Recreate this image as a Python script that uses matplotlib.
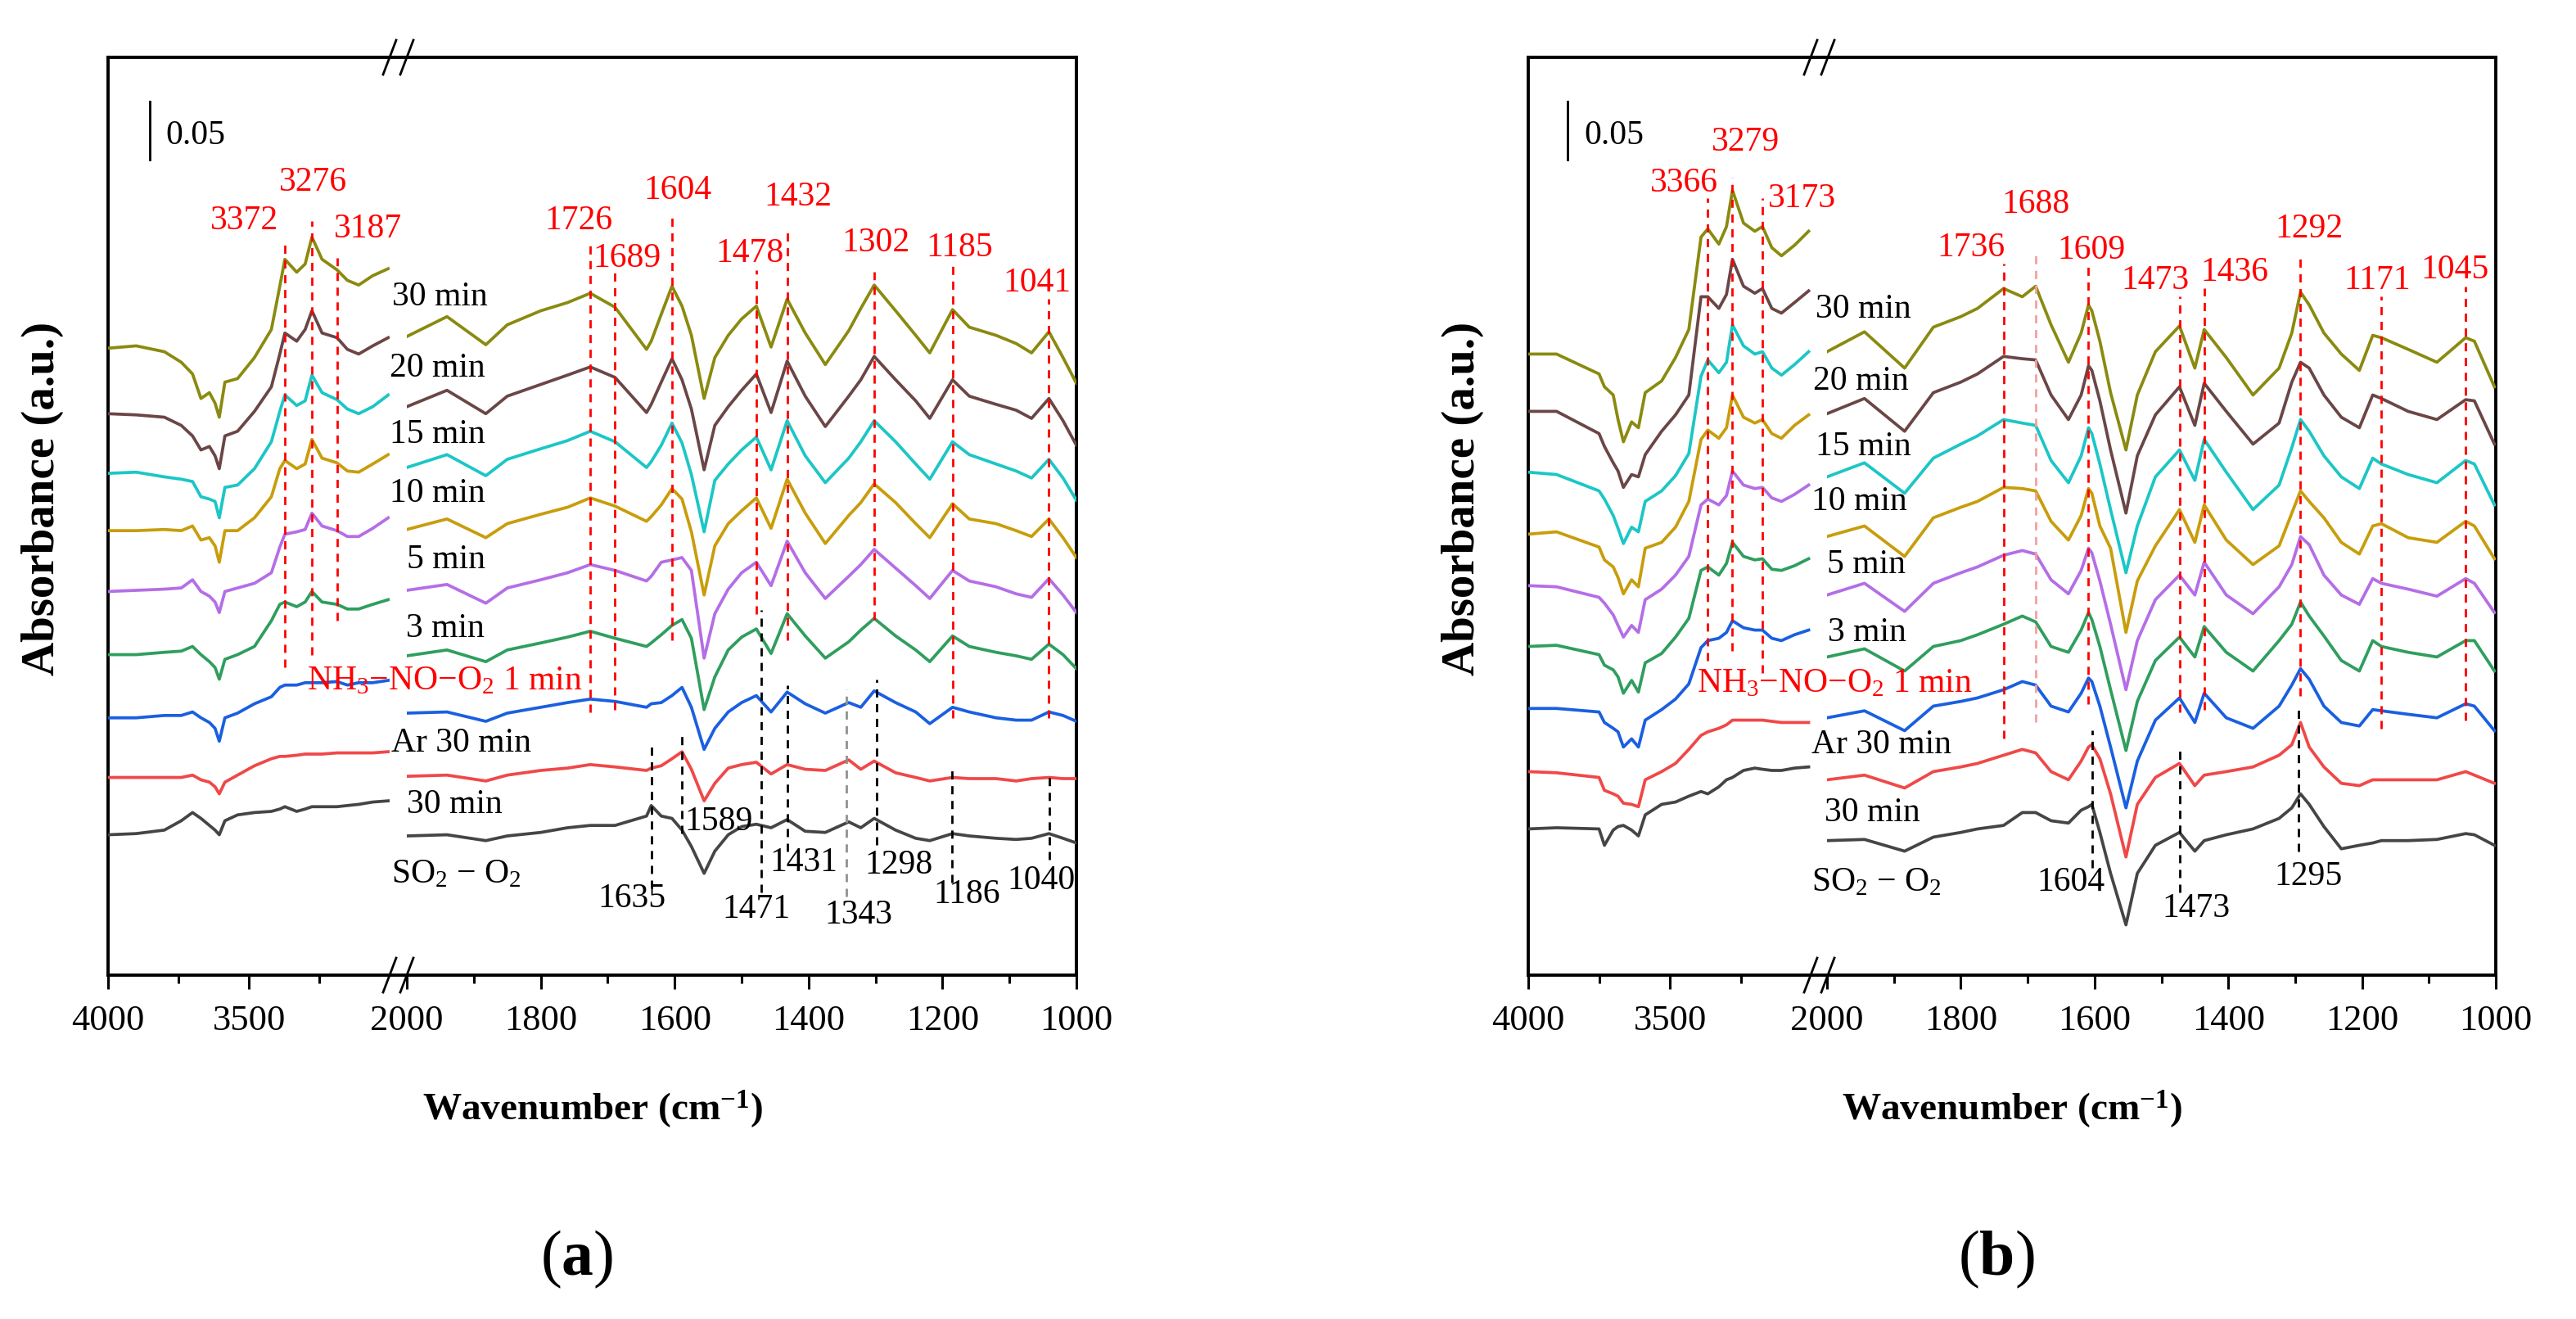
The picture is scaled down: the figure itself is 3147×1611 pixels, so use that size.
import matplotlib
matplotlib.use('Agg')
import matplotlib.pyplot as plt
from matplotlib.lines import Line2D

plt.rcParams['font.family'] = ['Liberation Serif', 'DejaVu Serif']
plt.rcParams['mathtext.fontset'] = 'custom'
plt.rcParams['mathtext.rm'] = 'Liberation Serif'
plt.rcParams['mathtext.it'] = 'Liberation Serif:italic'
plt.rcParams['mathtext.bf'] = 'Liberation Serif:bold'

# ---------------- data (absorbance in mAU) ----------------
# order of series: SO2-O2 30 min, Ar 30 min, NH3-NO-O2 1, 3, 5, 10, 15, 20, 30 min

# panel (a), 4000-3000 cm-1
wn_hi_a = [4000, 3900, 3800, 3740, 3700, 3670, 3640, 3620, 3605, 3585, 3540, 3480,
           3420, 3390, 3372, 3330, 3300, 3276, 3240, 3187, 3150, 3110, 3060, 3005]
a_hi_so2 = [120, 121, 124, 132, 139, 134, 128, 124, 120, 132, 137, 139, 140, 142, 144, 140, 142, 144, 144, 144, 145, 146, 148, 149]
a_hi_ar = [169, 169, 169, 169, 171, 167, 165, 161, 155, 165, 171, 179, 185, 187, 187, 188, 189, 189, 189, 190, 190, 190, 190, 191]
a_hi_1 = [220, 220, 222, 222, 225, 220, 216, 211, 200, 220, 224, 232, 238, 246, 248, 248, 250, 250, 250, 251, 248, 250, 250, 252]
a_hi_3 = [274, 274, 276, 277, 281, 274, 268, 263, 253, 270, 274, 281, 303, 317, 319, 315, 319, 328, 319, 317, 313, 313, 317, 321]
a_hi_5 = [328, 329, 330, 331, 338, 328, 324, 319, 310, 328, 331, 335, 344, 366, 377, 379, 381, 395, 384, 380, 375, 375, 382, 391]
a_hi_10 = [380, 380, 381, 380, 384, 372, 374, 367, 353, 380, 380, 391, 409, 433, 440, 433, 437, 458, 442, 438, 431, 430, 437, 445]
a_hi_15 = [429, 430, 426, 424, 422, 409, 407, 405, 391, 417, 419, 433, 456, 482, 496, 487, 491, 513, 498, 492, 484, 480, 486, 496]
a_hi_20 = [480, 479, 477, 470, 461, 449, 452, 444, 433, 461, 465, 482, 503, 531, 549, 542, 552, 568, 549, 545, 535, 531, 538, 545]
a_hi_30 = [536, 538, 533, 524, 514, 493, 498, 489, 477, 507, 510, 528, 552, 589, 612, 601, 608, 631, 612, 603, 594, 590, 598, 604]

# panel (a), 2000-1000 cm-1
wn_lo_a = [2000, 1940, 1882, 1850, 1800, 1760, 1726, 1689, 1642, 1635, 1620, 1604, 1589,
           1575, 1556, 1540, 1520, 1500, 1478, 1456, 1432, 1405, 1375, 1340, 1322, 1302,
           1270, 1240, 1219, 1185, 1160, 1120, 1090, 1067, 1041, 1020, 1000]
a_lo_so2 = [119, 120, 115, 119, 122, 126, 128, 128, 136, 145, 136, 134, 124, 110, 87, 106, 120, 127, 129,
            126, 133, 123, 122, 131, 126, 134, 124, 117, 115, 121, 119, 117, 116, 117, 121, 117, 113]
a_lo_ar = [170, 171, 166, 171, 175, 177, 180, 178, 175, 177, 179, 185, 191, 176, 149, 164, 177, 180, 182,
           172, 180, 176, 175, 184, 176, 183, 173, 169, 166, 169, 168, 168, 166, 168, 169, 168, 168]
a_lo_1 = [224, 225, 217, 224, 229, 233, 236, 234, 229, 232, 233, 239, 246, 229, 193, 211, 225, 233, 239,
          225, 242, 232, 224, 233, 229, 243, 233, 225, 215, 229, 225, 220, 218, 218, 225, 222, 217]
a_lo_3 = [273, 278, 268, 278, 284, 289, 294, 288, 281, 284, 291, 299, 304, 288, 227, 255, 278, 289, 296,
          275, 309, 290, 271, 285, 295, 305, 290, 278, 268, 290, 281, 276, 273, 270, 283, 274, 262]
a_lo_5 = [329, 334, 318, 331, 338, 344, 351, 346, 337, 341, 353, 355, 357, 346, 271, 309, 330, 344, 353,
          333, 371, 344, 322, 341, 351, 364, 348, 333, 322, 346, 337, 332, 326, 323, 339, 325, 310]
a_lo_10 = [381, 390, 374, 386, 394, 400, 408, 401, 388, 392, 402, 416, 407, 379, 325, 367, 386, 397, 408,
           382, 424, 395, 369, 393, 404, 420, 404, 386, 374, 403, 390, 386, 380, 375, 390, 374, 357]
a_lo_15 = [434, 445, 427, 441, 450, 457, 465, 456, 434, 439, 453, 472, 455, 428, 379, 423, 437, 449, 460,
           432, 474, 444, 421, 442, 456, 474, 456, 437, 424, 456, 445, 437, 431, 425, 441, 425, 406]
a_lo_20 = [486, 500, 480, 495, 505, 513, 520, 511, 481, 488, 507, 527, 509, 484, 432, 470, 486, 500, 514,
           481, 525, 495, 469, 495, 509, 529, 509, 491, 476, 509, 495, 488, 483, 476, 493, 474, 453]
a_lo_30 = [546, 563, 539, 556, 568, 575, 583, 571, 535, 542, 565, 589, 572, 547, 493, 528, 547, 561, 572,
           537, 578, 549, 522, 551, 570, 590, 568, 547, 532, 569, 554, 547, 540, 532, 550, 528, 506]

# panel (b), 4000-3000 cm-1
wn_hi_b = [4000, 3900, 3750, 3731, 3700, 3683, 3664, 3635, 3611, 3587, 3529, 3480, 3433,
           3390, 3366, 3327, 3300, 3279, 3240, 3200, 3173, 3140, 3106, 3060, 3010]
b_hi_so2 = [125, 126, 125, 111, 124, 127, 128, 124, 119, 137, 146, 148, 153, 157, 155, 161, 167, 169, 175, 177, 176, 175, 175, 177, 178]
b_hi_ar = [174, 173, 169, 158, 155, 153, 147, 146, 144, 167, 174, 181, 193, 205, 208, 211, 214, 218, 218, 218, 218, 217, 216, 216, 216]
b_hi_1 = [228, 228, 225, 216, 211, 208, 195, 202, 195, 218, 227, 236, 249, 280, 286, 288, 293, 303, 297, 295, 295, 288, 286, 291, 295]
b_hi_3 = [281, 282, 274, 265, 261, 255, 241, 252, 242, 267, 275, 289, 305, 346, 349, 342, 352, 370, 358, 355, 356, 347, 346, 350, 356]
b_hi_5 = [333, 332, 323, 318, 308, 299, 289, 299, 293, 321, 330, 342, 358, 402, 407, 402, 410, 431, 419, 416, 417, 408, 405, 411, 419]
b_hi_10 = [377, 379, 366, 355, 349, 340, 326, 338, 332, 365, 370, 383, 405, 458, 466, 459, 468, 496, 477, 472, 475, 463, 459, 470, 479]
b_hi_15 = [430, 428, 414, 407, 393, 382, 369, 383, 379, 405, 414, 427, 446, 512, 526, 515, 524, 556, 538, 531, 533, 519, 513, 522, 533]
b_hi_20 = [482, 482, 463, 452, 438, 431, 417, 428, 426, 445, 465, 479, 496, 580, 580, 570, 582, 612, 589, 583, 587, 570, 566, 575, 585]
b_hi_30 = [531, 531, 514, 503, 496, 475, 456, 473, 468, 498, 508, 528, 552, 631, 638, 625, 640, 671, 643, 636, 640, 622, 615, 624, 636]

# panel (b), 2000-1000 cm-1
wn_lo_b = [2000, 1944, 1884, 1841, 1800, 1775, 1736, 1708, 1688, 1665, 1639, 1620, 1609,
           1604, 1592, 1576, 1553, 1536, 1509, 1473, 1450, 1436, 1403, 1363, 1324, 1305,
           1292, 1279, 1257, 1231, 1204, 1184, 1171, 1131, 1088, 1045, 1032, 1002]
b_lo_so2 = [115, 116, 106, 118, 122, 125, 128, 139, 139, 132, 130, 141, 144, 146, 122, 87, 43, 87, 111,
            122, 106, 115, 120, 125, 134, 143, 155, 146, 127, 108, 111, 113, 115, 115, 116, 121, 120, 111]
b_lo_ar = [167, 171, 160, 174, 178, 181, 188, 193, 190, 174, 167, 183, 195, 197, 185, 155, 101, 146, 169,
           181, 162, 171, 174, 178, 188, 197, 216, 195, 178, 164, 162, 167, 167, 167, 167, 174, 171, 164]
b_lo_1 = [220, 226, 209, 230, 234, 237, 244, 251, 248, 230, 225, 241, 254, 251, 230, 195, 143, 183, 218,
          237, 216, 241, 220, 211, 230, 248, 262, 253, 230, 216, 213, 227, 226, 223, 220, 232, 230, 209]
b_lo_3 = [272, 279, 260, 281, 286, 291, 300, 307, 302, 281, 276, 295, 310, 304, 281, 244, 192, 234, 269,
          289, 272, 298, 276, 260, 286, 300, 319, 307, 290, 269, 260, 286, 281, 276, 272, 286, 286, 260]
b_lo_5 = [325, 335, 311, 335, 344, 349, 359, 363, 360, 338, 326, 346, 365, 361, 337, 300, 244, 286, 321,
          342, 325, 353, 325, 309, 332, 351, 375, 368, 342, 325, 317, 339, 335, 330, 324, 339, 335, 310]
b_lo_10 = [375, 384, 358, 391, 400, 405, 417, 416, 414, 388, 372, 393, 416, 412, 384, 365, 293, 337, 367,
           398, 370, 402, 372, 351, 367, 395, 414, 405, 391, 370, 360, 384, 386, 374, 370, 388, 384, 356]
b_lo_15 = [426, 438, 412, 442, 454, 461, 475, 472, 470, 440, 421, 444, 468, 463, 437, 398, 344, 384, 426,
           449, 423, 458, 430, 398, 419, 451, 475, 465, 444, 426, 416, 442, 437, 428, 421, 440, 437, 402]
b_lo_20 = [480, 493, 465, 498, 507, 514, 529, 527, 526, 496, 475, 496, 521, 517, 491, 449, 395, 444, 479,
           503, 470, 506, 482, 454, 472, 507, 524, 519, 496, 477, 468, 496, 493, 482, 475, 492, 491, 454]
b_lo_30 = [533, 550, 519, 554, 563, 570, 587, 580, 589, 556, 524, 549, 573, 568, 542, 498, 449, 496, 533,
           555, 519, 552, 528, 496, 519, 549, 584, 573, 549, 531, 517, 547, 545, 535, 524, 545, 542, 503]

series_colors = ['#454545', '#f04848', '#1a5fe0', '#2f9e5e', '#b46ee6',
                 '#c89d0c', '#1cc6c6', '#6b4646', '#8a8a10']
series_labels = ['30 min', 'Ar 30 min', 'NH$_3$\u2212NO\u2212O$_2$ 1 min', '3 min', '5 min',
                 '10 min', '15 min', '20 min', '30 min']
label_colors = ['black', 'black', '#ff0000', 'black', 'black', 'black', 'black', 'black', 'black']

# marked bands (wavenumber, dashed line extent in mAU)
a_red_wn = [3372, 3276, 3187, 1726, 1689, 1604, 1478, 1432, 1302, 1185, 1041]
a_red_top = [629, 645, 613, 624, 601, 648, 603, 636, 601, 608, 578]
a_red_bot = [263, 274, 303, 225, 227, 286, 309, 286, 304, 220, 220]
a_red_lx = [3517, 3273, 3076, 1743, 1671, 1595, 1488, 1416, 1300, 1174, 1059]
a_red_ly = [645, 678, 638, 645, 613, 671, 617, 665, 626, 622, 592]
a_blk_wn = [1635, 1589, 1471, 1431, 1343, 1298, 1186, 1040]
a_blk_top = [195, 206, 312, 248, 244, 253, 176, 174]
a_blk_bot = [74, 121, 71, 106, 67, 111, 79, 99]
a_blk_lx = [1664, 1534, 1478, 1407, 1325, 1265, 1164, 1053]
a_blk_ly = [65, 131, 56, 96, 51, 94, 69, 81]
a_name_x = [2000, 2023, 2149, 2001, 2000, 2026, 2026, 2026, 2022]
a_name_y = [146, 198, 251, 296, 355, 412, 462, 519, 580]

b_red_wn = [3366, 3279, 3173, 1736, 1688, 1609, 1473, 1436, 1292, 1171, 1045]
b_red_top = [664, 682, 664, 608, 618, 606, 580, 587, 613, 580, 589]
b_red_bot = [269, 277, 258, 202, 216, 232, 225, 227, 239, 211, 218]
b_red_lx = [3451, 3232, 3033, 1785, 1688, 1605, 1509, 1390, 1279, 1177, 1061]
b_red_ly = [677, 712, 664, 622, 659, 620, 594, 601, 638, 594, 603]
b_blk_wn = [1604, 1473, 1295]
b_blk_top = [209, 192, 227]
b_blk_bot = [92, 71, 106]
b_blk_lx = [1635, 1448, 1280]
b_blk_ly = [79, 57, 84]
b_name_x = [2004, 2023, 2195, 1999, 2000, 2023, 2017, 2021, 2017]
b_name_y = [139, 197, 249, 293, 351, 405, 452, 508, 569]

# ---------------- figure ----------------
W, H = 3147, 1611
AX_TOP, AX_BOT = 70, 1191
YMAX = 784.7
DASH = (0, (3.6, 2.9))

fig = plt.figure(figsize=(W / 100, H / 100), dpi=100)
fig.patch.set_facecolor('white')


def px_box(x0, x1):
    return [x0 / W, (H - AX_BOT) / H, (x1 - x0) / W, (AX_BOT - AX_TOP) / H]


def break_marks(cx):
    for y in (AX_TOP, AX_BOT):
        for c in (cx - 10.5, cx + 10.5):
            xs = [(c - 8) / W, (c + 8) / W]
            ys = [(H - y - 21) / H, (H - y + 21) / H]
            fig.add_artist(Line2D(xs, ys, color='black', lw=2.0))


def draw_panel(px, wn_hi, hi_sets, wn_lo, lo_sets, red, blk, names, bar_x, tag, pale=()):
    x0, x1, x2, x3 = px
    frame = fig.add_axes(px_box(x0, x3))
    frame.set_xticks([])
    frame.set_yticks([])
    for s in frame.spines.values():
        s.set_linewidth(2.8)

    ax_hi = fig.add_axes(px_box(x0, x1))
    ax_lo = fig.add_axes(px_box(x2, x3))
    for ax in (ax_hi, ax_lo):
        ax.patch.set_visible(False)
        for s in ax.spines.values():
            s.set_visible(False)
        ax.set_ylim(0, YMAX)
        ax.set_yticks([])
        ax.tick_params(axis='x', which='major', direction='out', length=12, width=2.2,
                       labelsize=32, pad=14)
        ax.tick_params(axis='x', which='minor', direction='out', length=7, width=2.2)
    ax_hi.set_xlim(4000, 3000)
    ax_hi.set_xticks([4000, 3500])
    ax_hi.set_xticks([3750, 3250], minor=True)
    ax_lo.set_xlim(2000, 1000)
    ax_lo.set_xticks(list(range(2000, 999, -200)))
    ax_lo.set_xticks(list(range(1900, 1000, -200)), minor=True)

    for ys, c in zip(hi_sets, series_colors):
        ax_hi.plot(wn_hi, ys, color=c, lw=2.7)
    for ys, c in zip(lo_sets, series_colors):
        ax_lo.plot(wn_lo, ys, color=c, lw=2.7)

    # dashed band markers and their labels
    r_wn, r_top, r_bot, r_lx, r_ly = red
    for w, t, b, lx, ly in zip(r_wn, r_top, r_bot, r_lx, r_ly):
        ax = ax_hi if w > 2500 else ax_lo
        col = '#f4a0a0' if w in pale else '#ff0000'
        ax.plot([w, w], [b, t], color=col, lw=2, ls=DASH)
        ax.text(lx, ly, str(w), color='#ff0000', fontsize=30, ha='center', va='center')
    k_wn, k_top, k_bot, k_lx, k_ly = blk
    for w, t, b, lx, ly in zip(k_wn, k_top, k_bot, k_lx, k_ly):
        col = '#909090' if w == 1343 else 'black'
        ax_lo.plot([w, w], [b, t], color=col, lw=2, ls=DASH)
        ax_lo.text(lx, ly, str(w), color='black', fontsize=30, ha='center', va='center')

    nx, ny = names
    for s, c, x, y in zip(series_labels, label_colors, nx, ny):
        ax_lo.text(x, y, s, color=c, fontsize=30, ha='left', va='center')
    ax_lo.text(2023, ny[0] - 60, 'SO$_2$ \u2212 O$_2$', fontsize=30, ha='left', va='center')

    # 0.05 scale bar
    ax_hi.plot([bar_x, bar_x], [697, 747], color='black', lw=2)
    ax_hi.text(bar_x - 58, 718, '0.05', fontsize=30, ha='left', va='center')

    frame.text(-0.068, 0.519, 'Absorbance (a.u.)', rotation=90, fontsize=41,
               fontweight='bold', ha='center', va='center', transform=frame.transAxes)
    frame.text(0.5, -0.146, 'Wavenumber (cm$^{\\mathbf{-1}}$)', fontsize=34,
               fontweight='bold', ha='center', va='center', transform=frame.transAxes)
    frame.text(0.484, -0.31, '($\\mathbf{' + tag + '}$)', fontsize=56,
               ha='center', va='center', transform=frame.transAxes)
    break_marks((x1 + x2) / 2)


draw_panel((132, 476, 497, 1315), wn_hi_a,
           [a_hi_so2, a_hi_ar, a_hi_1, a_hi_3, a_hi_5, a_hi_10, a_hi_15, a_hi_20, a_hi_30],
           wn_lo_a,
           [a_lo_so2, a_lo_ar, a_lo_1, a_lo_3, a_lo_5, a_lo_10, a_lo_15, a_lo_20, a_lo_30],
           (a_red_wn, a_red_top, a_red_bot, a_red_lx, a_red_ly),
           (a_blk_wn, a_blk_top, a_blk_bot, a_blk_lx, a_blk_ly),
           (a_name_x, a_name_y), 3852, 'a')

draw_panel((1867, 2213, 2232, 3049), wn_hi_b,
           [b_hi_so2, b_hi_ar, b_hi_1, b_hi_3, b_hi_5, b_hi_10, b_hi_15, b_hi_20, b_hi_30],
           wn_lo_b,
           [b_lo_so2, b_lo_ar, b_lo_1, b_lo_3, b_lo_5, b_lo_10, b_lo_15, b_lo_20, b_lo_30],
           (b_red_wn, b_red_top, b_red_bot, b_red_lx, b_red_ly),
           (b_blk_wn, b_blk_top, b_blk_bot, b_blk_lx, b_blk_ly),
           (b_name_x, b_name_y), 3861, 'b', pale=(1688,))

fig.savefig('out.png', dpi=100, facecolor='white')
